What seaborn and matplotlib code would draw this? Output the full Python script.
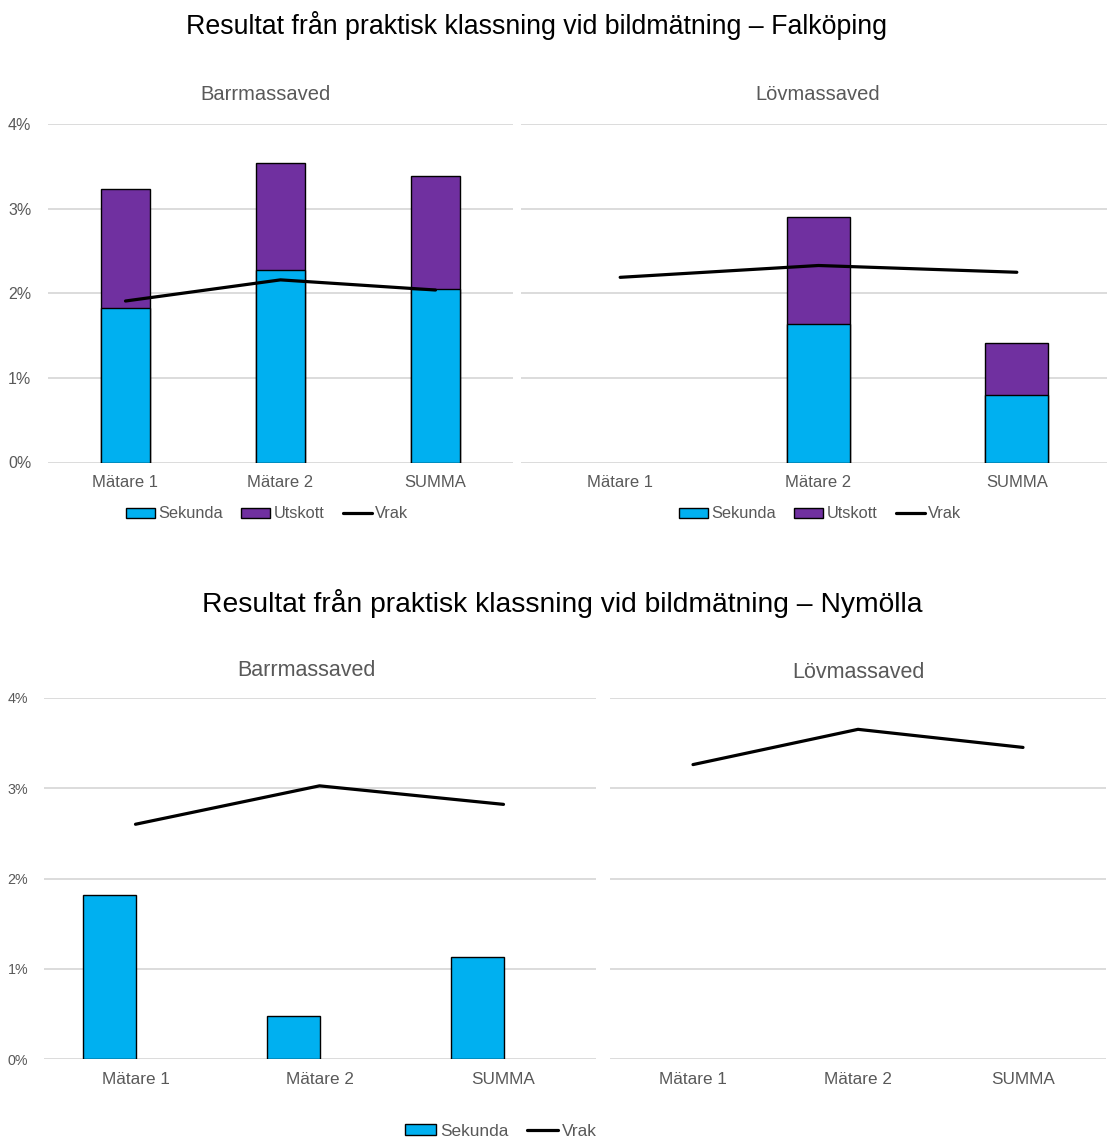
import numpy as np
import pandas as pd
import matplotlib
matplotlib.use("Agg")
import matplotlib.pyplot as plt
from matplotlib.patches import Patch
from matplotlib.lines import Line2D
import seaborn as sns

# ---- data (percent) ----
categories = ["Mätare 1", "Mätare 2", "SUMMA"]

falk_barr_sekunda = [1.83, 2.28, 2.05]
falk_barr_utskott = [1.40, 1.26, 1.34]
falk_barr_vrak = [1.91, 2.16, 2.04]

falk_lov_sekunda = [0.0, 1.635, 0.80]
falk_lov_utskott = [0.0, 1.27, 0.615]
falk_lov_vrak = [2.19, 2.33, 2.25]

nym_barr_sekunda = [1.815, 0.48, 1.135]
nym_barr_utskott = [0.0, 0.0, 0.0]
nym_barr_vrak = [2.60, 3.025, 2.82]

nym_lov_vrak = [3.26, 3.65, 3.45]

yticks = [0, 1, 2, 3, 4]
ytick_labels = ["0%", "1%", "2%", "3%", "4%"]

title_falk = "Resultat från praktisk klassning vid bildmätning – Falköping"
title_nym = "Resultat från praktisk klassning vid bildmätning – Nymölla"

# ---- style ----
BLUE = "#00B0F0"
PURPLE = "#7030A0"
GRID = "#D9D9D9"
GREY = "#595959"

sns.set_theme(style="white")
plt.rcParams["font.family"] = ["Liberation Sans", "DejaVu Sans"]

W, H = 1107, 1138
fig = plt.figure(figsize=(W / 100, H / 100), dpi=100)


def add_ax(x0, x1, ytop, ybot):
    return fig.add_axes([x0 / W, 1 - ybot / H, (x1 - x0) / W, (ybot - ytop) / H])


def style_ax(ax, show_y, ysize, ypad, xsize):
    ax.set_xlim(-0.5, 2.5)
    ax.set_ylim(0, 4)
    ax.set_yticks(yticks)
    ax.yaxis.grid(True, color=GRID, linewidth=1.3, zorder=0)
    ax.set_axisbelow(True)
    for s in ax.spines.values():
        s.set_visible(False)
    ax.tick_params(axis="both", length=0, colors=GREY)
    ax.tick_params(axis="x", labelsize=xsize, pad=9)
    if show_y:
        ax.set_yticklabels(ytick_labels, fontsize=ysize, color=GREY)
        ax.tick_params(axis="y", pad=ypad)
    else:
        ax.set_yticklabels([])
    ax.set_xticks(range(len(categories)))
    ax.set_xticklabels(categories, color=GREY)
    ax.set_xlabel("")
    ax.set_ylabel("")


def stacked(ax, sek, uts, vrak, width):
    totals = [a + b for a, b in zip(sek, uts)]
    sns.barplot(x=categories, y=totals, color=PURPLE, saturation=1,
                edgecolor="black", linewidth=1.0, width=width, ax=ax)
    sns.barplot(x=categories, y=sek, color=BLUE, saturation=1,
                edgecolor="black", linewidth=1.0, width=width, ax=ax)
    for p in ax.patches:
        if p.get_height() == 0:
            p.set_linewidth(0)
    sns.pointplot(x=categories, y=vrak, color="black", markers="",
                  linewidth=2.3, errorbar=None, ax=ax)


def panel_title(x, y, text, size):
    fig.text(x / W, 1 - y / H, text, ha="center", va="center",
             fontsize=size, color=GREY)


# Falköping, Barrmassaved
ax1 = add_ax(48, 513, 124.3, 462.5)
stacked(ax1, falk_barr_sekunda, falk_barr_utskott, falk_barr_vrak, 0.316)
style_ax(ax1, True, 11.5, 12, 12)

# Falköping, Lövmassaved
ax2 = add_ax(521, 1116, 124.3, 462.5)
stacked(ax2, falk_lov_sekunda, falk_lov_utskott, falk_lov_vrak, 0.316)
style_ax(ax2, False, 11.5, 12, 12)

# Nymölla, Barrmassaved (clustered bars, Utskott empty)
ax3 = add_ax(43.5, 595.5, 697.7, 1059.3)
df_nym = pd.DataFrame({
    "kategori": categories * 2,
    "andel": nym_barr_sekunda + nym_barr_utskott,
    "serie": ["Sekunda"] * 3 + ["Utskott"] * 3,
})
sns.barplot(data=df_nym, x="kategori", y="andel", hue="serie",
            hue_order=["Sekunda", "Utskott"],
            palette={"Sekunda": BLUE, "Utskott": PURPLE}, saturation=1,
            width=0.576, gap=0, dodge=True, edgecolor="black", linewidth=1.0,
            legend=False, ax=ax3)
for p in ax3.patches:
    if p.get_height() == 0:
        p.set_linewidth(0)
sns.pointplot(x=categories, y=nym_barr_vrak, color="black", markers="",
              linewidth=2.3, errorbar=None, ax=ax3)
style_ax(ax3, True, 10.3, 11, 12.3)

# Nymölla, Lövmassaved
ax4 = add_ax(610.5, 1105.5, 697.7, 1059.3)
sns.pointplot(x=categories, y=nym_lov_vrak, color="black", markers="",
              linewidth=2.3, errorbar=None, ax=ax4)
style_ax(ax4, False, 10.3, 11, 12.3)

# ---- titles ----
fig.text(537 / W, 1 - 25 / H, title_falk, ha="center", va="center",
         fontsize=19.3, color="black")
fig.text(562 / W, 1 - 603 / H, title_nym, ha="center", va="center",
         fontsize=20.3, color="black")

panel_title(265, 94, "Barrmassaved", 14.5)
panel_title(818, 94, "Lövmassaved", 14.5)
panel_title(306, 671, "Barrmassaved", 15.5)
panel_title(858, 672, "Lövmassaved", 15.5)

# ---- legends ----
h_sek = Patch(facecolor=BLUE, edgecolor="black", linewidth=1.0)
h_uts = Patch(facecolor=PURPLE, edgecolor="black", linewidth=1.0)
h_vrak = Line2D([0], [0], color="black", linewidth=2.3)

leg_kw = dict(frameon=False, handlelength=1.8, handleheight=0.55,
              handletextpad=0.2, columnspacing=1.1, borderaxespad=0,
              labelcolor=GREY, loc="center")
fig.legend([h_sek, h_uts, h_vrak], ["Sekunda", "Utskott", "Vrak"], ncol=3,
           bbox_to_anchor=(267 / W, 1 - 514 / H), fontsize=11.8, **leg_kw)
fig.legend([h_sek, h_uts, h_vrak], ["Sekunda", "Utskott", "Vrak"], ncol=3,
           bbox_to_anchor=(820 / W, 1 - 514 / H), fontsize=11.8, **leg_kw)
fig.legend([h_sek, h_vrak], ["Sekunda", "Vrak"], ncol=2,
           bbox_to_anchor=(501 / W, 1 - 1131 / H), fontsize=12.4, **leg_kw)

fig.savefig("out.png", dpi=100, facecolor="white")
